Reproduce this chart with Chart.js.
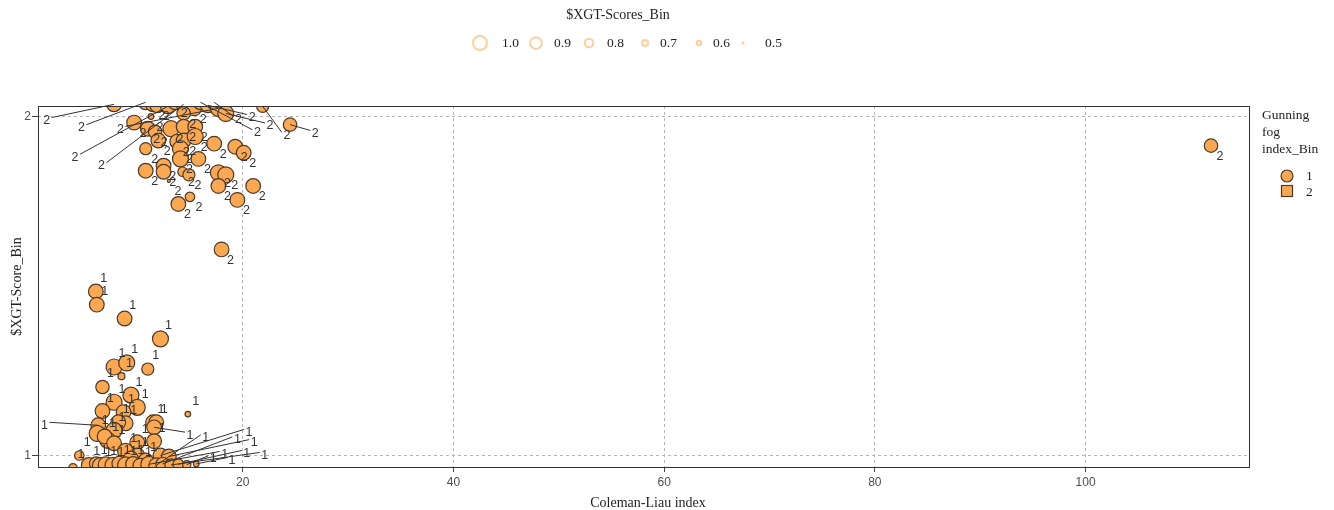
<!DOCTYPE html>
<html>
<head>
<meta charset="utf-8">
<script src="https://cdn.jsdelivr.net/npm/chart.js@4"></script>
<style>
  body { margin: 0; background: #fff; }
  #chart { display: block; }
</style>
</head>
<body>
<canvas id="chart" width="1334" height="510"></canvas>
<script>
// tick values and legend entries
const xTicks = [20, 40, 60, 80, 100];
const yTicks = [1, 2];
const scoreBins = [1.0, 0.9, 0.8, 0.7, 0.6, 0.5];
const fogBins = ['1', '2'];

// points labelled "2"
const bin2X = [7.8, 10.8, 11.5, 11.9, 12.9, 13.6, 14.4, 15.4, 16.0, 16.7, 17.3, 17.7, 18.4, 21.9, 14.4, 11.3,
  9.7, 11.0, 11.7, 12.0, 13.2, 14.4, 15.5, 24.5, 10.8, 13.8, 14.4, 15.5, 17.3, 19.3, 20.1, 14.1, 14.1, 15.8,
  12.5, 12.5, 10.8, 14.3, 14.9, 17.7, 18.4, 17.7, 21.0, 13.9, 15.0, 19.5, 13.0, 18.0, 111.9];
const bin2Y = [2.036, 2.042, 2.036, 2.033, 2.030, 2.042, 2.036, 2.024, 2.042, 2.033, 2.042, 2.024, 2.009, 2.030, 2.009, 2.000,
  1.982, 1.964, 1.955, 1.929, 1.964, 1.970, 1.970, 1.976, 1.905, 1.926, 1.929, 1.941, 1.920, 1.911, 1.893, 1.905, 1.875, 1.875,
  1.855, 1.837, 1.840, 1.837, 1.828, 1.834, 1.828, 1.795, 1.795, 1.742, 1.763, 1.754, 1.810, 1.608, 1.914];
const bin2S = [0.95, 0.95, 0.95, 0.95, 0.95, 0.95, 0.95, 0.95, 0.95, 0.95, 0.95, 1.0, 1.0, 0.85, 0.9, 0.6,
  0.95, 0.95, 0.9, 0.95, 1.0, 0.95, 0.95, 0.9, 0.85, 0.95, 0.95, 1.0, 0.95, 0.95, 0.95, 1.0, 1.0, 0.95,
  0.95, 0.95, 0.95, 0.75, 0.85, 1.0, 1.0, 0.95, 0.95, 0.95, 0.75, 0.95, 0.5, 0.95, 0.9];
// [point index, label x, label y] for labels pushed away from their point
const bin2Leaders = [[0, 1.4, 1.988], [1, 4.7, 1.967], [4, 4.1, 1.880], [6, 6.6, 1.855], [11, 8.4, 1.962],
  [23, 26.9, 1.950], [13, 24.2, 1.944], [9, 20.9, 1.997], [12, 22.6, 1.972], [10, 19.6, 1.992], [8, 21.4, 1.952]];

// points labelled "1"
const bin1X = [6.07, 6.16, 8.8, 12.2, 7.8, 9.0, 11.0, 8.5, 6.7, 9.4, 7.8, 6.7, 10.0, 8.7, 14.8, 11.5, 11.8, 11.6,
  6.3, 8.9, 8.2, 6.2, 7.8, 7.2, 6.9, 7.8, 10.0, 11.6, 8.9, 4.5, 12.2, 13.0, 10.0, 9.4, 10.8, 3.9,
  5.4, 6.1, 6.5, 7.0, 7.7, 8.3, 8.9, 9.6, 10.3, 11.1, 11.8, 12.4, 13.2, 13.9, 14.7, 15.6];
const bin1Y = [1.484, 1.445, 1.404, 1.344, 1.261, 1.273, 1.255, 1.234, 1.202, 1.178, 1.157, 1.131, 1.142, 1.128, 1.122, 1.098, 1.098, 1.083,
  1.089, 1.095, 1.098, 1.065, 1.074, 1.045, 1.056, 1.036, 1.039, 1.042, 1.012, 1.000, 1.000, 0.997, 1.000, 0.991, 0.985, 0.964,
  0.972, 0.976, 0.970, 0.974, 0.971, 0.976, 0.972, 0.975, 0.970, 0.974, 0.971, 0.975, 0.972, 0.974, 0.973, 0.975];
const bin1S = [0.95, 0.95, 0.95, 1.0, 1.0, 1.0, 0.85, 0.65, 0.9, 1.0, 1.0, 0.95, 1.0, 0.95, 0.6, 0.95, 0.95, 0.95,
  0.95, 0.95, 0.95, 1.0, 1.0, 1.0, 0.95, 0.95, 0.95, 0.95, 1.0, 0.75, 0.95, 0.95, 0.95, 0.95, 0.95, 0.7,
  0.95, 0.9, 1.0, 0.95, 1.0, 0.95, 1.0, 0.95, 0.95, 1.0, 0.95, 0.9, 0.85, 0.8, 0.7, 0.6];
const bin1Leaders = [[18, 1.2, 1.089], [30, 20.6, 1.068], [31, 21.1, 1.038], [47, 19.5, 1.046], [48, 22.1, 1.000],
  [49, 20.4, 1.006], [46, 16.5, 1.052], [45, 18.3, 1.003], [50, 17.2, 0.990], [51, 19.0, 0.985], [17, 15.0, 1.06]];

const ORANGE = '#fba851';
const EDGE = '#4a3a2a';
const SERIF = '"Liberation Serif", "Times New Roman", serif';
const SANS = '"Liberation Sans", Arial, sans-serif';

function radius(s) {
  return 1.5 + (s - 0.5) * 13;
}

function toPoints(xs, ys, ss) {
  return xs.map((x, i) => ({ x: x, y: ys[i], s: ss[i] }));
}

// keep the markers inside the plot frame
const clipPlugin = {
  id: 'areaClip',
  beforeDatasetsDraw(chart) {
    const a = chart.chartArea;
    chart.ctx.save();
    chart.ctx.beginPath();
    chart.ctx.rect(a.left, a.top, a.right - a.left, a.bottom - a.top);
    chart.ctx.clip();
  },
  afterDatasetsDraw(chart) {
    chart.ctx.restore();
  }
};

const labelPlugin = {
  id: 'pointLabels',
  afterDatasetsDraw(chart) {
    const ctx = chart.ctx;
    const xs = chart.scales.x, ys = chart.scales.y;
    ctx.save();
    ctx.font = '12.5px ' + SANS;
    ctx.textAlign = 'center';
    ctx.textBaseline = 'middle';
    chart.data.datasets.forEach((ds, di) => {
      const meta = chart.getDatasetMeta(di);
      const lead = {};
      ds.leaders.forEach(l => { lead[l[0]] = [l[1], l[2]]; });
      meta.data.forEach((pt, i) => {
        let lx, ly;
        if (lead[i]) {
          lx = xs.getPixelForValue(lead[i][0]);
          ly = ys.getPixelForValue(lead[i][1]);
          ctx.strokeStyle = '#333';
          ctx.lineWidth = 1;
          ctx.beginPath();
          ctx.moveTo(pt.x, pt.y);
          ctx.lineTo(lx + (lx > pt.x ? -5 : 5), ly - 3);
          ctx.stroke();
        } else {
          lx = pt.x + ds.labelDx;
          ly = pt.y + ds.labelDy;
        }
        ctx.fillStyle = '#333';
        ctx.fillText(ds.tag, lx, ly);
      });
    });
    ctx.restore();
  }
};

const decorPlugin = {
  id: 'decor',
  afterDraw(chart) {
    const ctx = chart.ctx;
    const a = chart.chartArea;
    ctx.save();
    // frame
    ctx.strokeStyle = '#333';
    ctx.lineWidth = 1;
    ctx.strokeRect(a.left + 0.5, a.top + 0.5, a.right - a.left - 1, a.bottom - a.top);

    // axis titles
    ctx.fillStyle = '#222';
    ctx.font = '14px ' + SERIF;
    ctx.textAlign = 'center';
    ctx.textBaseline = 'middle';
    ctx.fillText('Coleman-Liau index', (a.left + a.right) / 2 + 4, 503);
    ctx.save();
    ctx.translate(17, (a.top + a.bottom) / 2);
    ctx.rotate(-Math.PI / 2);
    ctx.fillText('$XGT-Score_Bin', 0, 0);
    ctx.restore();

    // size legend
    ctx.fillText('$XGT-Scores_Bin', 618, 15);
    const cx = [480, 536, 589, 645, 699, 743];
    const tx = [502, 554, 607, 660, 713, 765];
    const rr = [7, 5.8, 4.3, 3, 2.2, 1.5];
    ctx.font = '13.5px ' + SERIF;
    ctx.textAlign = 'left';
    scoreBins.forEach((b, i) => {
      ctx.beginPath();
      ctx.arc(cx[i], 43, rr[i], 0, Math.PI * 2);
      if (i === scoreBins.length - 1) {
        ctx.fillStyle = 'rgba(251,168,81,0.6)';
        ctx.fill();
      } else {
        ctx.strokeStyle = 'rgba(251,168,81,0.55)';
        ctx.lineWidth = 2;
        ctx.stroke();
      }
      ctx.fillStyle = '#222';
      ctx.fillText(b.toFixed(1), tx[i], 43);
    });

    // shape legend
    ctx.fillText('Gunning', 1262, 115);
    ctx.fillText('fog', 1262, 132);
    ctx.fillText('index_Bin', 1262, 149);
    ctx.fillStyle = ORANGE;
    ctx.strokeStyle = EDGE;
    ctx.lineWidth = 1.2;
    ctx.beginPath();
    ctx.arc(1287, 176, 6, 0, Math.PI * 2);
    ctx.fill();
    ctx.stroke();
    ctx.fillRect(1281.5, 185.5, 11, 11);
    ctx.strokeRect(1281.5, 185.5, 11, 11);
    ctx.fillStyle = '#222';
    ctx.fillText(fogBins[0], 1306, 176);
    ctx.fillText(fogBins[1], 1306, 192);
    ctx.restore();
  }
};

const pointStyle = {
  pointStyle: 'circle',
  backgroundColor: ORANGE,
  borderColor: EDGE,
  borderWidth: 1.2,
  pointRadius: c => radius(c.raw.s),
  pointHoverRadius: c => radius(c.raw.s),
  clip: false
};

new Chart(document.getElementById('chart'), {
  type: 'scatter',
  data: {
    datasets: [
      Object.assign({ label: '2', tag: '2', labelDx: 9, labelDy: 11, leaders: bin2Leaders,
        data: toPoints(bin2X, bin2Y, bin2S) }, pointStyle),
      Object.assign({ label: '1', tag: '1', labelDx: 8, labelDy: -13, leaders: bin1Leaders,
        data: toPoints(bin1X, bin1Y, bin1S) }, pointStyle)
    ]
  },
  options: {
    responsive: false,
    animation: false,
    layout: { padding: { top: 106, right: 84, left: 0, bottom: 0 } },
    plugins: { legend: { display: false }, tooltip: { enabled: false } },
    scales: {
      x: {
        type: 'linear',
        min: 0.58,
        max: 115.6,
        afterBuildTicks: s => { s.ticks = xTicks.map(v => ({ value: v })); },
        afterFit: s => { s.height = 43; },
        grid: { color: '#b5b5b5', tickColor: '#444', tickLength: 5, lineWidth: 1 },
        border: { display: false, dash: [3, 3] },
        ticks: { color: '#4d4d4d', font: { family: SANS, size: 12 }, padding: 3, maxRotation: 0,
          callback: v => String(v) }
      },
      y: {
        type: 'linear',
        min: 0.966,
        max: 2.031,
        afterBuildTicks: s => { s.ticks = yTicks.map(v => ({ value: v })); },
        afterFit: s => { s.width = 38; },
        grid: { color: '#b5b5b5', tickColor: '#444', tickLength: 6, lineWidth: 1 },
        border: { display: false, dash: [3, 3] },
        ticks: { color: '#4d4d4d', font: { family: SANS, size: 12 }, padding: 1,
          callback: v => String(v) }
      }
    }
  },
  plugins: [clipPlugin, labelPlugin, decorPlugin]
});
</script>
</body>
</html>
